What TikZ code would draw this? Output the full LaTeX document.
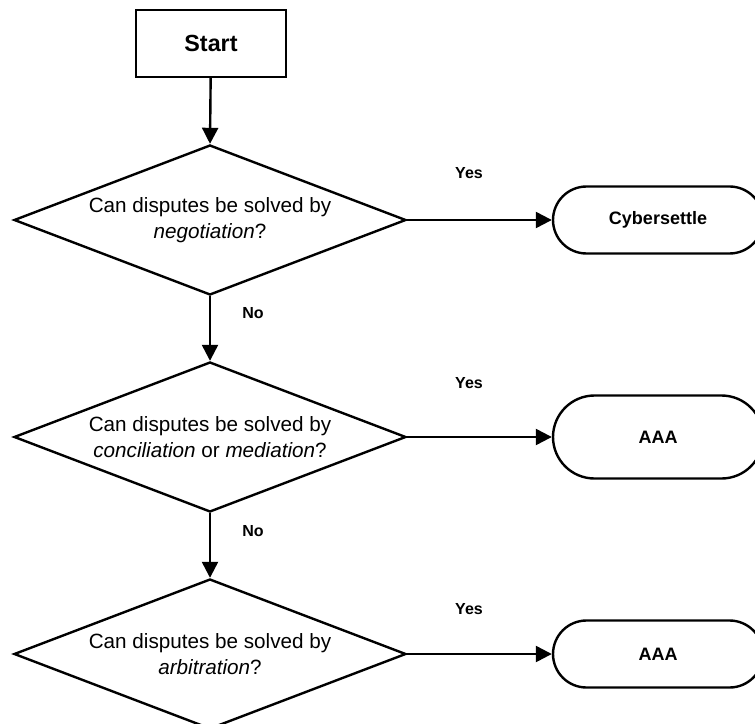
\documentclass[tikz,border=0pt]{standalone}
\usepackage{fontspec}
\setmainfont{Liberation Sans}
\usetikzlibrary{arrows.meta,shapes.geometric,shapes.misc}

\begin{document}
\begin{tikzpicture}[x=0.75pt,y=0.75pt,yscale=-1,
  line width=1.8pt,
  flow/.style={-{Triangle[length=12pt,width=12pt]}},
  startbox/.style={draw,rectangle,minimum width=112.5pt,minimum height=50.25pt,inner sep=0,font=\bfseries\fontsize{17.5}{20}\selectfont},
  askbox/.style={draw,diamond,aspect=2.6,minimum width=294pt,minimum height=112.5pt,inner sep=0,align=center,font=\fontsize{15.5}{19.5}\selectfont},
  endbox/.style={draw,rounded rectangle,minimum width=157.5pt,minimum height=50.25pt,inner sep=0,font=\bfseries\fontsize{13.5}{16}\selectfont},
  answer/.style={font=\bfseries\fontsize{12}{14}\selectfont}]
  \useasboundingbox (0,0) rectangle (755,723);
  \clip (0,0) rectangle (755,723);

  %Shape: Rectangle
  \node[startbox] (start) at (211,43.5) {Start};
  %Shape: Diamond
  \node[askbox] (ask1) at (210,220) {Can disputes be solved by\\\textit{negotiation}?};
  \node[askbox] (ask2) at (210,437) {Can disputes be solved by\\\textit{conciliation} or \textit{mediation}?};
  \node[askbox] (ask3) at (210,654) {Can disputes be solved by\\\textit{arbitration}?};
  %Shape: Terminal
  \node[endbox] (end1) at (658,220) {Cybersettle};
  \node[endbox,minimum height=62.25pt] (end2) at (658,437) {AAA};
  \node[endbox] (end3) at (658,654) {AAA};

  %Straight Lines
  \draw[flow] (start) -- (ask1.north);
  \draw[flow] (ask1.south) -- (ask2.north);
  \draw[flow] (ask2.south) -- (ask3.north);
  \draw[flow] (ask1.east) -- (end1.west);
  \draw[flow] (ask2.east) -- (end2.west);
  \draw[flow] (ask3.east) -- (end3.west);

  %Labels
  \node[answer] (yes1) at (469,173) {Yes};
  \node[answer] (yes2) at (469,383) {Yes};
  \node[answer] (yes3) at (469,609) {Yes};
  \node[answer] (no1) at (253,313) {No};
  \node[answer] (no2) at (253,531) {No};
\end{tikzpicture}
\end{document}
